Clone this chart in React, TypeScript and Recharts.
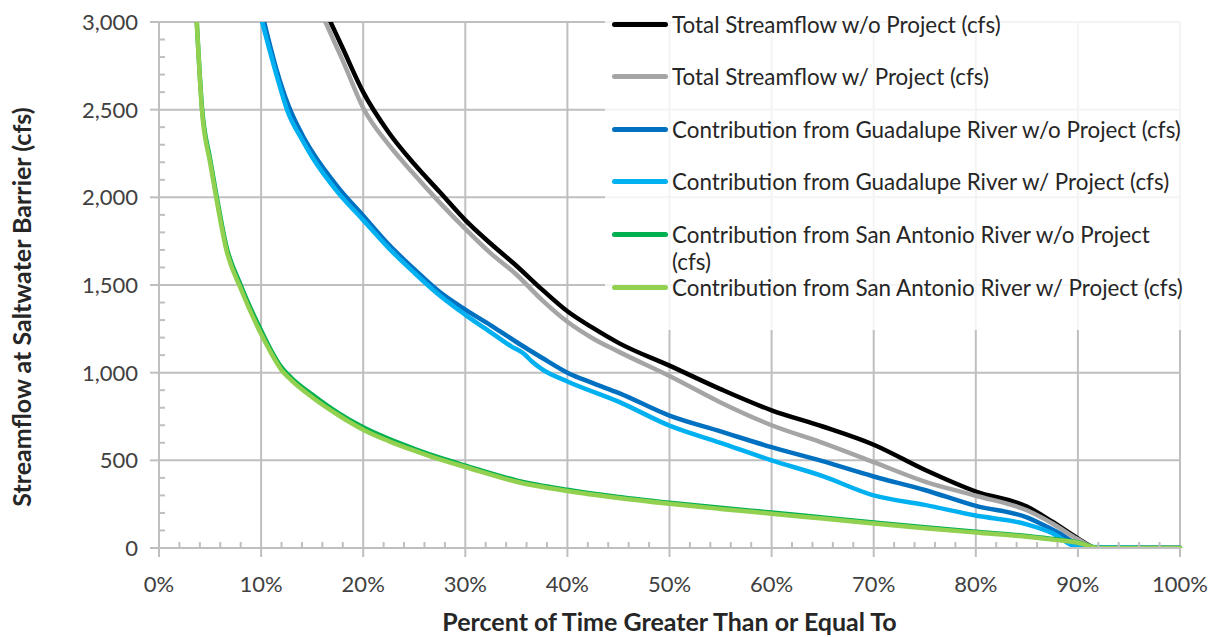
import React from 'react';
import { LineChart, Line, XAxis, YAxis, CartesianGrid, Legend } from 'recharts';

const GRID = '#bfbfbf';
const FONT = 'Lato, "Open Sans", sans-serif';
const TICK_COLOR = '#404040';

const xTitle = 'Percent of Time Greater Than or Equal To';
const yTitle = 'Streamflow at Saltwater Barrier (cfs)';

// major tick values (labelled) and minor tick steps
const xTicks = [0, 10, 20, 30, 40, 50, 60, 70, 80, 90, 100];
const yTicks = [0, 500, 1000, 1500, 2000, 2500, 3000];
const xMinorStep = 2;
const yMinorStep = 100;

const seriesNames = [
  'Total Streamflow w/o Project (cfs)',
  'Total Streamflow w/ Project (cfs)',
  'Contribution from Guadalupe River w/o Project (cfs)',
  'Contribution from Guadalupe River w/ Project (cfs)',
  'Contribution from San Antonio River w/o Project (cfs)',
  'Contribution from San Antonio River w/ Project (cfs)',
];
const seriesColors = ['#000000', '#a5a5a5', '#0070c0', '#00b0f0', '#00b050', '#92d050'];

// Total streamflow w/o project
const totalWoPct = [16.8, 18, 20, 22.5, 25, 27.5, 30, 32.5, 35, 37.5, 40, 42.5, 45, 50, 55, 60, 65, 70, 75, 80, 85, 87.5, 90, 91.8, 100];
const totalWoCfs = [3000, 2850, 2600, 2370, 2190, 2030, 1870, 1735, 1610, 1475, 1350, 1255, 1170, 1040, 906, 785, 693, 589, 446, 322, 236, 150, 55, 0, 0];

// Total streamflow w/ project
const totalWPct = [16.3, 18, 20, 22.5, 25, 27.5, 30, 32.5, 35, 37.5, 40, 42.5, 45, 50, 55, 60, 65, 70, 75, 80, 85, 87.5, 90, 91.8, 100];
const totalWCfs = [3000, 2780, 2510, 2300, 2130, 1970, 1820, 1680, 1560, 1415, 1290, 1195, 1120, 981, 830, 700, 600, 490, 379, 298, 215, 140, 50, 0, 0];

// Guadalupe River w/o project
const guadWoPct = [10.3, 11.5, 12.7, 14, 15, 17.5, 20, 22.5, 25, 27.5, 30, 32.5, 35, 37.5, 40, 42.5, 45, 50, 55, 60, 65, 70, 75, 80, 85, 88, 91, 100];
const guadWoCfs = [3000, 2730, 2520, 2360, 2260, 2060, 1895, 1730, 1590, 1460, 1360, 1270, 1175, 1085, 1000, 940, 885, 755, 665, 575, 495, 408, 331, 240, 175, 90, 0, 0];

// Guadalupe River w/ project
const guadWPct = [10.1, 11.5, 12.6, 14, 15, 17.5, 20, 22.5, 25, 27.5, 30, 32.5, 34.5, 35.8, 36.5, 37.5, 40, 45, 50, 55, 60, 65, 70, 75, 80, 85, 87.5, 90, 100];
const guadWCfs = [3000, 2700, 2490, 2330, 2230, 2030, 1870, 1710, 1570, 1440, 1330, 1230, 1150, 1105, 1065, 1020, 950, 835, 698, 600, 500, 410, 300, 246, 185, 135, 85, 5, 0];

// San Antonio River w/o project
const sanAntWoPct = [3.7, 4.2, 5, 5.6, 6.6, 8, 10, 11, 12, 13, 15, 17.5, 20, 22.5, 25, 27.5, 30, 35, 40, 45, 50, 55, 60, 65, 70, 75, 80, 85, 88, 90, 92, 100];
const sanAntWoCfs = [3000, 2520, 2220, 2020, 1720, 1500, 1240, 1125, 1030, 968, 875, 772, 688, 622, 566, 515, 470, 386, 332, 291, 258, 229, 202, 174, 146, 119, 93, 68, 48, 32, 0, 0];

// San Antonio River w/ project
const sanAntWPct = [3.7, 4.2, 5, 5.6, 6.6, 8, 10, 11, 12, 13, 15, 17.5, 20, 22.5, 25, 27.5, 30, 35, 40, 45, 50, 55, 60, 65, 70, 75, 80, 85, 88, 90, 92, 100];
const sanAntWCfs = [3000, 2500, 2200, 2000, 1700, 1480, 1220, 1110, 1015, 955, 860, 760, 675, 610, 555, 505, 462, 378, 325, 285, 252, 223, 196, 168, 140, 113, 88, 64, 45, 30, 0, 0];

const toRows = (pct: number[], cfs: number[]) => pct.map((p, i) => ({ pct: p, cfs: cfs[i] }));

const series = [
  toRows(totalWoPct, totalWoCfs),
  toRows(totalWPct, totalWCfs),
  toRows(guadWoPct, guadWoCfs),
  toRows(guadWPct, guadWCfs),
  toRows(sanAntWoPct, sanAntWoCfs),
  toRows(sanAntWPct, sanAntWCfs),
];

const range = (max: number, step: number) => {
  const out: number[] = [];
  for (let v = 0; v <= max; v += step) out.push(v);
  return out;
};
const xAllTicks = range(100, xMinorStep);
const yAllTicks = range(3000, yMinorStep);

const XTick = (props: any) => {
  const { x, y, payload } = props;
  const v = payload.value;
  if (v % 10 !== 0) {
    return <line x1={x} x2={x} y1={y} y2={y - 6} stroke={GRID} strokeWidth={2} />;
  }
  return (
    <g>
      <line x1={x} x2={x} y1={y} y2={y + 9} stroke={GRID} strokeWidth={2} />
      <text x={x} y={y + 44} textAnchor="middle" fontSize={22} fill={TICK_COLOR} fontFamily={FONT}>
        {v}%
      </text>
    </g>
  );
};

const YTick = (props: any) => {
  const { x, y, payload } = props;
  const v = payload.value;
  if (v % 500 !== 0) {
    return <line x1={x} x2={x + 6} y1={y} y2={y} stroke={GRID} strokeWidth={2} />;
  }
  return (
    <g>
      <line x1={x - 9} x2={x} y1={y} y2={y} stroke={GRID} strokeWidth={2} />
      <text x={x - 21} y={y + 8} textAnchor="end" fontSize={22} fill={TICK_COLOR} fontFamily={FONT}>
        {v.toLocaleString('en-US')}
      </text>
    </g>
  );
};

const XTitle = (props: any) => {
  const { viewBox } = props;
  return (
    <text x={viewBox.x + viewBox.width / 2} y={viewBox.y + 83} textAnchor="middle"
      fontSize={25} fontWeight={700} fill="#262626" fontFamily={FONT}>
      {xTitle}
    </text>
  );
};

const YTitle = (props: any) => {
  const { viewBox } = props;
  const cx = viewBox.x + 31;
  const cy = viewBox.y + viewBox.height / 2 + 22;
  return (
    <text x={cx} y={cy} transform={`rotate(-90, ${cx}, ${cy})`} textAnchor="middle"
      fontSize={25} fontWeight={700} fill="#262626" fontFamily={FONT}>
      {yTitle}
    </text>
  );
};

const ROW = 52.6;

// legend drawn from our own arrays to keep the original series order
const LegendBox = () => (
  <div style={{ position: 'relative', width: 585, height: 326, background: 'rgba(255,255,255,0.82)', fontFamily: FONT }}>
    {seriesNames.map((name, i) => {
      const cy = 20 + i * ROW;
      return (
        <div key={name}>
          <span style={{ position: 'absolute', left: 7, top: cy - 2.5, width: 56, height: 5, borderRadius: 3, background: seriesColors[i] }} />
          <span style={{ position: 'absolute', left: 67, top: cy - 13.5, width: 516, lineHeight: '27px', fontSize: 22.4, color: '#262626', textAlign: 'left' }}>
            {name}
          </span>
        </div>
      );
    })}
  </div>
);

export default function App() {
  return (
    <div style={{ position: 'absolute', left: 0, top: 0, width: 1219, height: 637, background: '#fff' }}>
      <LineChart width={1219} height={637} margin={{ top: 22, right: 39, bottom: 0, left: 0 }}>
        <CartesianGrid stroke={GRID} strokeWidth={2} horizontalValues={yTicks} verticalValues={xTicks} />
        <XAxis
          dataKey="pct"
          type="number"
          domain={[0, 100]}
          ticks={xAllTicks}
          interval={0}
          height={89}
          tickLine={false}
          tickSize={0}
          tickMargin={0}
          axisLine={{ stroke: GRID, strokeWidth: 2 }}
          tick={<XTick />}
          label={<XTitle />}
          allowDuplicatedCategory={false}
        />
        <YAxis
          type="number"
          domain={[0, 3000]}
          ticks={yAllTicks}
          interval={0}
          width={159}
          allowDataOverflow
          tickLine={false}
          tickSize={0}
          tickMargin={0}
          axisLine={{ stroke: GRID, strokeWidth: 2 }}
          tick={<YTick />}
          label={<YTitle />}
        />
        <Legend
          layout="vertical"
          align="center"
          verticalAlign="middle"
          content={<LegendBox />}
          wrapperStyle={{ left: 605, top: 4, width: 585, height: 326 }}
        />
        {series.map((rows, i) => (
          <Line
            key={seriesNames[i]}
            data={rows}
            dataKey="cfs"
            name={seriesNames[i]}
            type="monotone"
            stroke={seriesColors[i]}
            strokeWidth={4.5}
            strokeLinecap="round"
            strokeLinejoin="round"
            dot={false}
            activeDot={false}
            isAnimationActive={false}
          />
        ))}
      </LineChart>
    </div>
  );
}
